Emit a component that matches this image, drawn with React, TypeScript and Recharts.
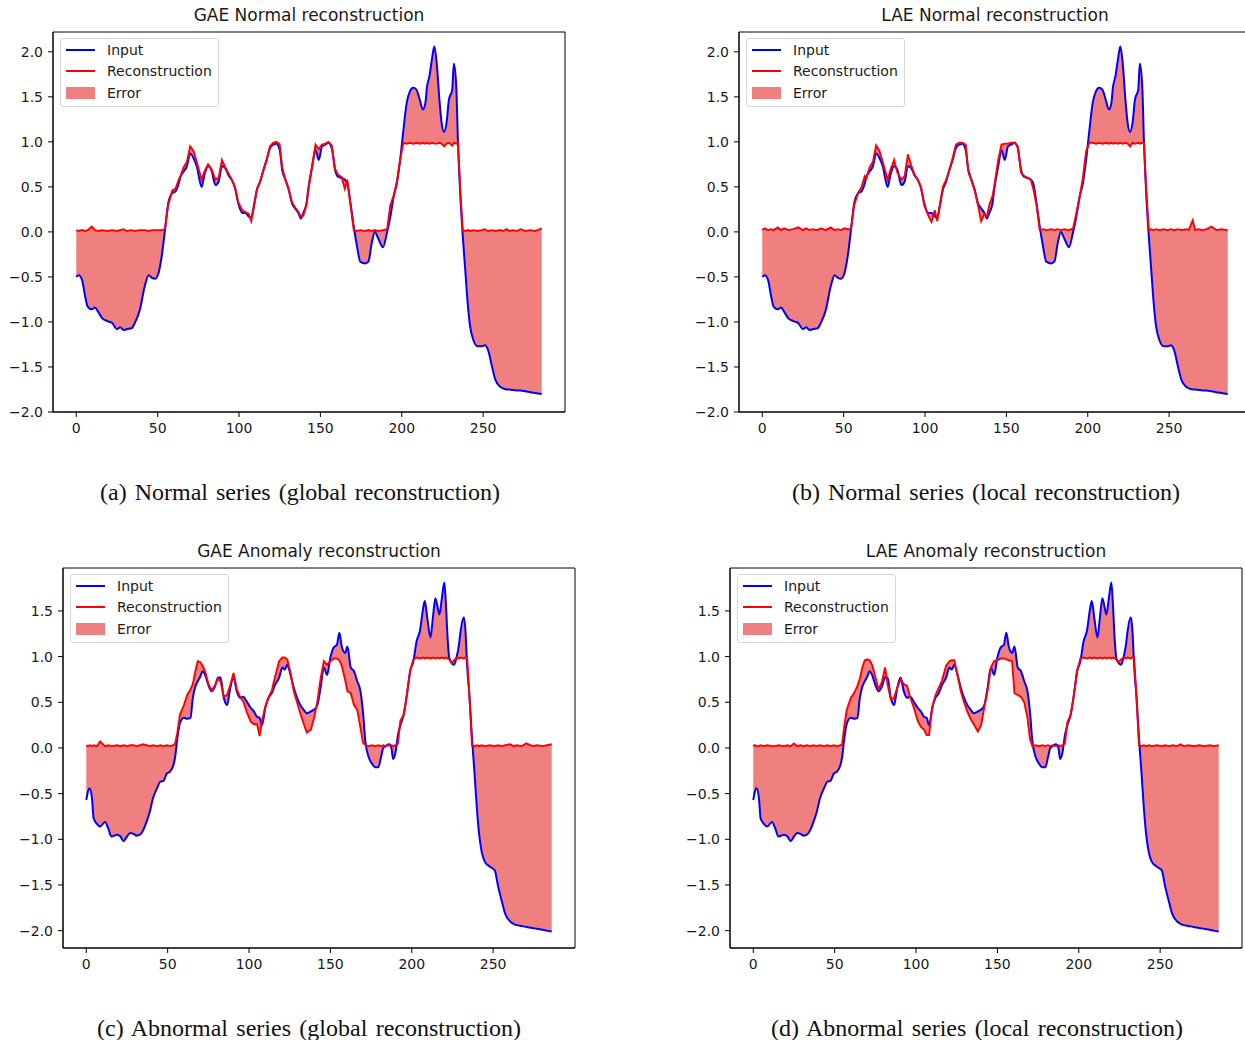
import React from 'react';
import { ComposedChart, Line, Area, XAxis, YAxis, ReferenceArea } from 'recharts';

// ---------- Normal series (panels a, b) ----------
const normalX = [
  0, 1.5, 3.5, 5.5, 7, 9.5, 11.5, 13.5, 16, 19,
  22, 25, 27, 29, 31, 34, 36, 39, 42, 44.5,
  46.5, 48.5, 50.5, 52.5, 54.5, 56.5, 59, 61, 63, 64,
  66, 68, 70, 72, 74, 77, 79, 81, 83, 85.5,
  87.5, 89.5, 91.5, 93.5, 95.5, 97.5, 99.5, 102, 104, 106,
  107.5, 109, 111, 113, 115, 117, 119, 121, 123, 125,
  126.5, 128.5, 130.5, 132.5, 134.5, 136.5, 138, 139.5, 141.5, 142.5,
  145, 147, 149, 151, 153, 155, 157, 159, 161, 163,
  165, 166.5, 168.5, 170.5, 172.5, 174.5, 177.5, 179.5, 181.5, 183.5,
  185.5, 188.5, 191, 193, 195, 197, 199, 201, 203, 205,
  207, 209, 211, 213, 214.5, 215.5, 217, 218.5, 220, 221.5,
  223, 224.5, 226, 227.5, 229, 231, 232, 233.5, 234.5, 236,
  237.5, 239, 240.5, 242, 244, 246.5, 249, 251, 253, 255.5,
  257.5, 260.5, 262, 264.5, 266, 268, 270.5, 273, 276, 279, 282, 286,
];

const normalInput = [
  -0.50, -0.48, -0.53, -0.72, -0.83, -0.86, -0.84, -0.89, -0.96, -0.99,
  -1.01, -1.08, -1.06, -1.09, -1.08, -1.07, -1.01, -0.87, -0.61, -0.48,
  -0.51, -0.52, -0.46, -0.27, 0.02, 0.32, 0.43, 0.45, 0.54, 0.61,
  0.67, 0.73, 0.87, 0.82, 0.73, 0.50, 0.65, 0.73, 0.69, 0.52,
  0.56, 0.73, 0.71, 0.63, 0.58, 0.49, 0.32, 0.21, 0.21, 0.17,
  0.16, 0.28, 0.47, 0.56, 0.69, 0.80, 0.93, 0.97, 0.98, 0.91,
  0.69, 0.58, 0.47, 0.32, 0.26, 0.21, 0.15, 0.21, 0.32, 0.47,
  0.73, 0.91, 0.80, 0.95, 0.97, 0.99, 0.93, 0.69, 0.61, 0.60,
  0.58, 0.54, 0.32, 0.06, -0.16, -0.33, -0.35, -0.33, -0.13, 0.00,
  -0.07, -0.17, 0.00, 0.17, 0.39, 0.54, 0.80, 1.13, 1.43, 1.56,
  1.60, 1.58, 1.47, 1.36, 1.43, 1.61, 1.73, 1.91, 2.06, 1.87,
  1.50, 1.21, 1.11, 1.21, 1.47, 1.58, 1.87, 1.61, 1.02, 0.39,
  -0.05, -0.42, -0.79, -1.05, -1.20, -1.27, -1.27, -1.26, -1.31, -1.50,
  -1.64, -1.72, -1.735, -1.75, -1.75, -1.755, -1.76, -1.76, -1.77, -1.78, -1.79, -1.80,
];

const gaeNormalRecon = [
  0.02, 0.01, 0.02, 0.01, 0.02, 0.06, 0.02, 0.01, 0.02, 0.01,
  0.02, 0.01, 0.02, 0.03, 0.01, 0.02, 0.01, 0.02, 0.02, 0.01,
  0.02, 0.02, 0.02, 0.02, 0.03, 0.30, 0.46, 0.48, 0.58, 0.62,
  0.72, 0.78, 0.95, 0.90, 0.78, 0.58, 0.68, 0.75, 0.70, 0.58,
  0.60, 0.80, 0.72, 0.65, 0.58, 0.50, 0.33, 0.24, 0.22, 0.20,
  0.12, 0.26, 0.47, 0.56, 0.68, 0.80, 0.95, 0.99, 1.00, 0.97,
  0.72, 0.58, 0.48, 0.33, 0.27, 0.22, 0.17, 0.18, 0.30, 0.45,
  0.74, 0.97, 0.92, 0.97, 0.98, 1.00, 0.96, 0.70, 0.63, 0.61,
  0.48, 0.58, 0.30, 0.02, 0.01, 0.02, 0.01, 0.02, 0.01, 0.02,
  0.01, 0.02, 0.03, 0.30, 0.40, 0.56, 0.80, 0.99, 0.98, 0.99,
  0.98, 0.99, 0.98, 0.99, 0.98, 0.99, 0.98, 0.99, 0.98, 0.98,
  0.99, 0.98, 0.95, 0.98, 0.99, 0.96, 0.99, 0.98, 0.99, 0.45,
  0.02, 0.01, 0.02, 0.01, 0.02, 0.01, 0.02, 0.03, 0.01, 0.02,
  0.01, 0.02, 0.01, 0.03, 0.01, 0.02, 0.01, 0.03, 0.01, 0.02, 0.01, 0.04,
];

const laeNormalRecon = [
  0.02, 0.04, 0.02, 0.03, 0.02, 0.05, 0.02, 0.04, 0.02, 0.03,
  0.05, 0.02, 0.04, 0.02, 0.03, 0.02, 0.04, 0.02, 0.05, 0.02,
  0.03, 0.02, 0.04, 0.03, 0.03, 0.30, 0.44, 0.50, 0.62, 0.60,
  0.72, 0.78, 0.96, 0.90, 0.78, 0.58, 0.70, 0.80, 0.66, 0.58,
  0.62, 0.86, 0.74, 0.64, 0.58, 0.50, 0.30, 0.18, 0.11, 0.24,
  0.12, 0.28, 0.50, 0.58, 0.69, 0.82, 0.97, 0.99, 0.99, 0.97,
  0.70, 0.57, 0.46, 0.30, 0.12, 0.20, 0.17, 0.30, 0.40, 0.50,
  0.80, 0.97, 0.98, 0.98, 0.99, 0.99, 0.95, 0.66, 0.62, 0.60,
  0.58, 0.48, 0.30, 0.02, 0.03, 0.02, 0.03, 0.02, 0.03, 0.02,
  0.03, 0.02, 0.04, 0.21, 0.39, 0.60, 0.90, 0.99, 0.99, 0.98,
  0.99, 0.98, 0.99, 0.98, 0.99, 0.98, 0.99, 0.98, 0.99, 0.98,
  0.99, 0.98, 0.95, 0.99, 0.98, 0.99, 0.98, 0.99, 0.99, 0.45,
  0.02, 0.03, 0.02, 0.03, 0.02, 0.03, 0.02, 0.03, 0.02, 0.03,
  0.02, 0.03, 0.02, 0.13, 0.02, 0.03, 0.02, 0.03, 0.06, 0.02, 0.03, 0.02,
];

// ---------- Abnormal series (panels c, d) ----------
const anomalyX = [
  0, 1, 2, 3.5, 4.5, 6.5, 8.5, 11.5, 13.5, 15.5,
  19, 21, 23, 25, 27, 29, 31, 33, 35, 37,
  39, 41, 43.5, 45.5, 47.5, 49.5, 51.5, 53.5, 54.5, 56,
  57.5, 60, 62, 64, 65.5, 67, 68.5, 70, 71.5, 73,
  75, 77, 79, 81, 82.5, 84.5, 86.5, 88.5, 90.5, 92.5,
  94.5, 96.5, 98.5, 101, 103, 105, 106.5, 108, 110, 112,
  114, 116, 118.5, 120.5, 122, 123.5, 125.5, 127.5, 129.5, 131.5,
  133.5, 135.5, 138, 140, 142, 144, 146, 148, 150, 152,
  154, 155.5, 157, 159, 160.5, 162.5, 164.5, 166.5, 168.5, 170,
  171.5, 173.5, 175.5, 177.5, 179.5, 181, 182.5, 184, 186, 187.5,
  188.5, 190, 191.5, 193, 195, 197, 199, 201, 203, 205,
  207, 208, 209.5, 211.5, 213, 214.5, 216, 217, 218.5, 220,
  221, 222, 223, 224.5, 226, 227.5, 229, 230, 232, 233,
  234, 235.5, 237, 238.5, 240, 241.5, 243, 245, 248, 251,
  253, 255.5, 257.5, 260.5, 262.5, 264.5, 267.5, 270.5, 274, 277,
  280.5, 283, 286,
];

const anomalyInput = [
  -0.57, -0.48, -0.44, -0.55, -0.77, -0.83, -0.86, -0.81, -0.88, -0.97,
  -0.95, -0.97, -1.02, -0.97, -0.93, -0.94, -0.96, -0.95, -0.90, -0.81,
  -0.70, -0.55, -0.44, -0.37, -0.36, -0.28, -0.26, -0.19, -0.11, 0.11,
  0.27, 0.33, 0.32, 0.33, 0.55, 0.67, 0.73, 0.78, 0.84, 0.80,
  0.69, 0.62, 0.67, 0.77, 0.77, 0.55, 0.47, 0.66, 0.77, 0.62,
  0.55, 0.56, 0.51, 0.44, 0.40, 0.34, 0.33, 0.25, 0.44, 0.55,
  0.60, 0.69, 0.77, 0.88, 0.86, 0.91, 0.80, 0.66, 0.55, 0.47,
  0.42, 0.38, 0.40, 0.42, 0.47, 0.66, 0.88, 0.80, 0.99, 1.10,
  1.13, 1.26, 1.11, 1.04, 1.11, 0.88, 0.84, 0.73, 0.62, 0.40,
  0.07, -0.10, -0.17, -0.21, -0.21, -0.11, 0.00, 0.02, 0.04, 0.00,
  -0.12, -0.05, 0.14, 0.25, 0.36, 0.58, 0.84, 0.95, 1.17, 1.28,
  1.53, 1.61, 1.43, 1.21, 1.43, 1.64, 1.53, 1.46, 1.64, 1.81,
  1.57, 1.21, 0.99, 0.93, 0.91, 0.99, 1.13, 1.28, 1.43, 1.28,
  0.91, 0.55, 0.11, -0.26, -0.66, -0.96, -1.14, -1.25, -1.30, -1.34,
  -1.51, -1.69, -1.82, -1.90, -1.925, -1.94, -1.95, -1.96, -1.97, -1.98,
  -1.99, -2.00, -2.01,
];

const gaeAnomalyRecon = [
  0.03, 0.02, 0.03, 0.02, 0.03, 0.02, 0.07, 0.02, 0.03, 0.02,
  0.03, 0.02, 0.03, 0.02, 0.03, 0.03, 0.02, 0.03, 0.04, 0.03,
  0.02, 0.03, 0.02, 0.03, 0.02, 0.03, 0.02, 0.03, 0.04, 0.17,
  0.36, 0.47, 0.58, 0.64, 0.70, 0.84, 0.95, 0.94, 0.90, 0.84,
  0.70, 0.63, 0.68, 0.76, 0.73, 0.56, 0.58, 0.69, 0.82, 0.64,
  0.56, 0.51, 0.40, 0.29, 0.26, 0.26, 0.13, 0.30, 0.45, 0.55,
  0.63, 0.78, 0.95, 0.99, 0.99, 0.97, 0.82, 0.62, 0.50, 0.38,
  0.27, 0.17, 0.20, 0.33, 0.51, 0.76, 0.95, 0.91, 0.95, 0.98,
  0.98, 0.96, 0.90, 0.75, 0.62, 0.60, 0.47, 0.42, 0.22, 0.06,
  0.03, 0.02, 0.03, 0.02, 0.03, 0.02, 0.03, 0.02, 0.03, 0.03,
  0.02, 0.03, 0.05, 0.30, 0.36, 0.58, 0.84, 0.97, 0.99, 0.98,
  0.99, 0.98, 0.99, 0.98, 0.99, 0.98, 0.99, 0.98, 0.99, 0.98,
  0.99, 0.98, 0.97, 0.93, 0.96, 0.99, 0.98, 0.99, 0.98, 0.99,
  0.99, 0.55, 0.03, 0.02, 0.03, 0.02, 0.03, 0.02, 0.03, 0.02,
  0.03, 0.02, 0.03, 0.04, 0.02, 0.03, 0.02, 0.05, 0.02, 0.03,
  0.02, 0.03, 0.04,
];

const laeAnomalyRecon = [
  0.02, 0.03, 0.02, 0.02, 0.03, 0.02, 0.03, 0.02, 0.02, 0.03,
  0.02, 0.03, 0.02, 0.05, 0.02, 0.03, 0.02, 0.03, 0.02, 0.03,
  0.02, 0.03, 0.02, 0.03, 0.02, 0.03, 0.02, 0.03, 0.03, 0.25,
  0.42, 0.55, 0.60, 0.68, 0.76, 0.88, 0.96, 0.97, 0.96, 0.91,
  0.78, 0.64, 0.72, 0.88, 0.70, 0.53, 0.55, 0.66, 0.75, 0.70,
  0.68, 0.55, 0.45, 0.30, 0.23, 0.20, 0.14, 0.14, 0.45, 0.58,
  0.66, 0.74, 0.90, 0.95, 0.96, 0.96, 0.80, 0.62, 0.50, 0.40,
  0.32, 0.26, 0.18, 0.25, 0.45, 0.63, 0.88, 0.95, 0.96, 0.98,
  0.98, 0.97, 0.96, 0.95, 0.60, 0.58, 0.56, 0.50, 0.33, 0.10,
  0.02, 0.03, 0.02, 0.03, 0.02, 0.03, 0.02, 0.03, 0.02, 0.03,
  0.02, 0.03, 0.05, 0.28, 0.36, 0.58, 0.84, 0.98, 0.99, 0.98,
  0.99, 0.98, 0.99, 0.98, 0.99, 0.98, 0.99, 0.98, 0.99, 0.98,
  0.99, 0.98, 0.97, 0.94, 0.97, 0.99, 0.98, 0.99, 0.98, 0.99,
  0.99, 0.55, 0.03, 0.02, 0.03, 0.02, 0.03, 0.02, 0.03, 0.02,
  0.03, 0.02, 0.03, 0.02, 0.04, 0.02, 0.03, 0.02, 0.03, 0.02,
  0.03, 0.02, 0.03,
];

// ---------- ticks ----------
const xTicks = [0, 50, 100, 150, 200, 250];
const yTicksNormal = [-2.0, -1.5, -1.0, -0.5, 0.0, 0.5, 1.0, 1.5, 2.0];
const yTicksAnomaly = [-2.0, -1.5, -1.0, -0.5, 0.0, 0.5, 1.0, 1.5];

const FRAME_W = 512;
const FRAME_H = 380;
const ML = 60;
const MT = 30;
const MR = 20;
const MB = 30;
const X_DOMAIN: [number, number] = [-14.3, 300.3];
const TEXT = '#1a1a1a';
const SANS = "'DejaVu Sans', sans-serif";

const fmtY = (v: number) => v.toFixed(1).replace('-', '\u2212');

type PanelProps = {
  left: number;
  top: number;
  title: string;
  xs: number[];
  input: number[];
  recon: number[];
  yDomain: [number, number];
  yTicks: number[];
};

function LegendBox() {
  const row = (y: number): React.CSSProperties => ({
    position: 'absolute', left: 46, top: y - 10, height: 20, lineHeight: '20px', whiteSpace: 'nowrap',
  });
  return (
    <div
      style={{
        position: 'absolute', left: ML + 7, top: MT + 6, width: 159, height: 69,
        border: '1px solid #d6d6d6', borderRadius: 3, background: 'rgba(255,255,255,0.85)',
        boxSizing: 'border-box', fontFamily: SANS, fontSize: 14, color: TEXT,
      }}
    >
      <div style={{ position: 'absolute', left: 5, top: 9.5, width: 29, height: 2, background: '#0000ff' }} />
      <div style={row(10.5)}>Input</div>
      <div style={{ position: 'absolute', left: 5, top: 31, width: 29, height: 2, background: '#ff0000' }} />
      <div style={row(32)}>Reconstruction</div>
      <div style={{ position: 'absolute', left: 5, top: 48, width: 29, height: 12, background: '#f08080' }} />
      <div style={row(53.5)}>Error</div>
    </div>
  );
}

function Panel({ left, top, title, xs, input, recon, yDomain, yTicks }: PanelProps) {
  const data = xs.map((x, i) => ({ x, input: input[i], recon: recon[i], err: [input[i], recon[i]] }));
  const W = FRAME_W + ML + MR;
  const H = FRAME_H + MT + MB;
  const tickStyle = { fill: TEXT, fontSize: 14, fontFamily: SANS };
  return (
    <div style={{ position: 'absolute', left: left - ML, top: top - MT, width: W, height: H }}>
      <ComposedChart width={W} height={H} data={data} margin={{ top: MT, right: MR, bottom: 0, left: ML - 50 }}>
        <XAxis
          xAxisId="b" dataKey="x" type="number" domain={X_DOMAIN} ticks={xTicks} height={MB}
          tickSize={5} tickMargin={6} axisLine={{ stroke: '#000', strokeWidth: 1 }}
          tickLine={{ stroke: '#000', strokeWidth: 1 }} tick={tickStyle} allowDataOverflow interval={0}
        />
        <YAxis
          yAxisId="l" type="number" domain={yDomain} ticks={yTicks} width={50} tickSize={5} tickMargin={5}
          tickFormatter={fmtY} axisLine={{ stroke: '#000', strokeWidth: 1 }}
          tickLine={{ stroke: '#000', strokeWidth: 1 }} tick={tickStyle} allowDataOverflow interval={0}
        />
        <Area
          xAxisId="b" yAxisId="l" dataKey="err" type="monotone" stroke="none" fill="#f08080"
          fillOpacity={1} isAnimationActive={false} dot={false} activeDot={false}
        />
        <Line
          xAxisId="b" yAxisId="l" dataKey="input" type="monotone" stroke="#0000ff" strokeWidth={2}
          dot={false} activeDot={false} isAnimationActive={false}
        />
        <Line
          xAxisId="b" yAxisId="l" dataKey="recon" type="linear" stroke="#ff0000" strokeWidth={1.9}
          dot={false} activeDot={false} isAnimationActive={false}
        />
        <ReferenceArea
          xAxisId="b" yAxisId="l" x1={X_DOMAIN[0]} x2={X_DOMAIN[1]} y1={yDomain[0]} y2={yDomain[1]}
          fill="none" fillOpacity={0} stroke="#000" strokeWidth={1} ifOverflow="visible"
        />
      </ComposedChart>
      <div
        style={{
          position: 'absolute', left: ML, width: FRAME_W, top: MT - 27, height: 20, lineHeight: '20px',
          textAlign: 'center', fontFamily: SANS, fontSize: 17, color: TEXT, whiteSpace: 'nowrap',
        }}
      >
        {title}
      </div>
      <LegendBox />
    </div>
  );
}

function Caption({ left, width, top, text }: { left: number; width: number; top: number; text: string }) {
  return (
    <div
      style={{
        position: 'absolute', left, width, top, height: 28, lineHeight: '28px',
        fontFamily: "'Liberation Serif', 'Times New Roman', serif", fontSize: 24, color: '#111',
        textAlign: 'justify', textAlignLast: 'justify', whiteSpace: 'normal',
      }}
    >
      {text}
    </div>
  );
}

export default function App() {
  return (
    <div style={{ position: 'absolute', left: 0, top: 0, width: 1245, height: 1040, overflow: 'hidden', background: '#fff' }}>
      <Panel left={53} top={32} title="GAE Normal reconstruction" xs={normalX} input={normalInput}
        recon={gaeNormalRecon} yDomain={[-2.0, 2.22]} yTicks={yTicksNormal} />
      <Panel left={739} top={32} title="LAE Normal reconstruction" xs={normalX} input={normalInput}
        recon={laeNormalRecon} yDomain={[-2.0, 2.22]} yTicks={yTicksNormal} />
      <Panel left={63} top={568} title="GAE Anomaly reconstruction" xs={anomalyX} input={anomalyInput}
        recon={gaeAnomalyRecon} yDomain={[-2.19, 1.97]} yTicks={yTicksAnomaly} />
      <Panel left={730} top={568} title="LAE Anomaly reconstruction" xs={anomalyX} input={anomalyInput}
        recon={laeAnomalyRecon} yDomain={[-2.19, 1.97]} yTicks={yTicksAnomaly} />
      <Caption left={100} width={400} top={478} text="(a) Normal series (global reconstruction)" />
      <Caption left={792} width={388} top={478} text="(b) Normal series (local reconstruction)" />
      <Caption left={97} width={424} top={1014} text="(c) Abnormal series (global reconstruction)" />
      <Caption left={771} width={412} top={1014} text="(d) Abnormal series (local reconstruction)" />
    </div>
  );
}
